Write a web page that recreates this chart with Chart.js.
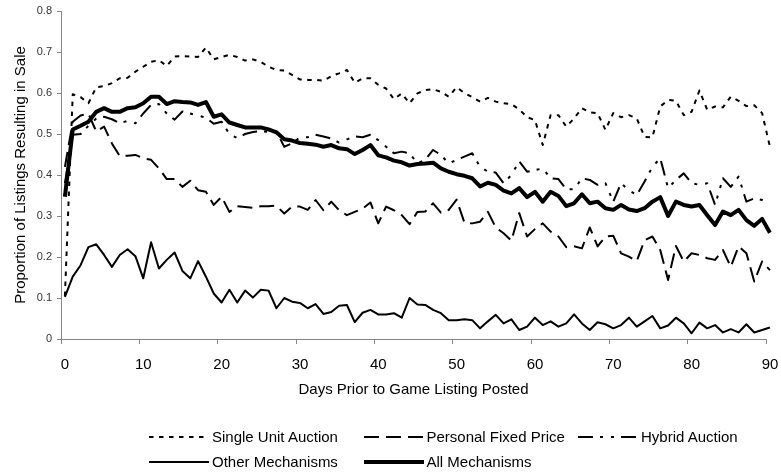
<!DOCTYPE html>
<html><head><meta charset="utf-8">
<script src="https://cdn.jsdelivr.net/npm/chart.js@4.4.1/dist/chart.umd.min.js"></script>
<style>
html,body{margin:0;padding:0;background:#fff;}
#wrap{position:relative;width:781px;height:473px;overflow:hidden;}
canvas{position:absolute;left:0;top:0;}
#legend{position:absolute;left:149px;top:424px;font-family:"Liberation Sans",Arial,sans-serif;font-size:15px;color:#000;display:grid;grid-template-columns:214.5px 214.5px auto;}
.item{display:flex;align-items:center;height:25px;white-space:nowrap;}
.item svg{margin-right:3px;display:block;}
</style></head>
<body><div id="wrap"><canvas id="c" width="781" height="473"></canvas><div id="legend"></div></div>
<script>
// Categories: days prior to listing (points sit at the middle of each day)
const days = Array.from({length: 91}, (_, i) => i + 0.5);
const xTickLabels = ['0','10','20','30','40','50','60','70','80','90'];
const yTickLabels = ['0','0.1','0.2','0.3','0.4','0.5','0.6','0.7','0.8'];
const seriesNames = ['Single Unit Auction','Personal Fixed Price','Hybrid Auction','Other Mechanisms','All Mechanisms'];

const singleUnit = [0.105,0.597,0.59,0.575,0.614,0.617,0.624,0.636,0.637,0.652,
0.664,0.676,0.68,0.666,0.689,0.69,0.689,0.688,0.711,0.682,
0.688,0.693,0.688,0.679,0.682,0.676,0.664,0.656,0.655,0.644,
0.633,0.632,0.632,0.63,0.641,0.648,0.656,0.625,0.636,0.636,
0.62,0.611,0.585,0.599,0.575,0.599,0.607,0.609,0.603,0.591,
0.614,0.6,0.59,0.579,0.588,0.579,0.575,0.573,0.56,0.541,
0.534,0.473,0.546,0.546,0.518,0.538,0.563,0.553,0.551,0.51,
0.551,0.541,0.546,0.538,0.493,0.492,0.567,0.583,0.581,0.546,
0.554,0.606,0.559,0.567,0.565,0.591,0.581,0.568,0.57,0.551,0.469];

const personalFixed = [0.42,0.53,0.545,0.55,0.506,0.518,0.477,0.446,0.447,0.449,
0.441,0.437,0.416,0.39,0.39,0.371,0.386,0.363,0.359,0.327,
0.347,0.31,0.324,0.322,0.32,0.324,0.324,0.325,0.306,0.323,
0.323,0.315,0.339,0.314,0.335,0.314,0.302,0.31,0.318,0.333,
0.282,0.323,0.314,0.302,0.28,0.31,0.311,0.331,0.308,0.315,
0.34,0.284,0.282,0.286,0.31,0.272,0.258,0.24,0.307,0.25,
0.268,0.282,0.262,0.25,0.224,0.226,0.221,0.272,0.226,0.25,
0.252,0.209,0.201,0.19,0.241,0.25,0.217,0.144,0.227,0.189,
0.209,0.205,0.197,0.193,0.217,0.176,0.226,0.209,0.14,0.189,0.168];

const hybridAuction = [0.38,0.498,0.5,0.52,0.538,0.542,0.536,0.526,0.532,0.526,
0.55,0.571,0.573,0.55,0.535,0.555,0.55,0.545,0.54,0.525,
0.53,0.5,0.49,0.5,0.505,0.507,0.505,0.506,0.469,0.477,
0.492,0.492,0.498,0.494,0.489,0.479,0.487,0.494,0.492,0.498,
0.485,0.469,0.453,0.457,0.453,0.428,0.437,0.461,0.449,0.428,
0.437,0.445,0.453,0.42,0.408,0.406,0.38,0.4,0.433,0.408,
0.412,0.416,0.392,0.39,0.365,0.365,0.392,0.388,0.376,0.38,
0.335,0.38,0.363,0.351,0.384,0.42,0.441,0.368,0.388,0.404,
0.38,0.376,0.38,0.327,0.392,0.371,0.396,0.335,0.343,0.339,0.331];

const otherMech = [0.103,0.152,0.18,0.224,0.231,0.205,0.176,0.205,0.219,0.202,
0.148,0.236,0.172,0.193,0.211,0.166,0.148,0.19,0.152,0.111,
0.089,0.12,0.089,0.118,0.101,0.12,0.118,0.075,0.1,0.091,
0.088,0.075,0.085,0.061,0.066,0.081,0.083,0.041,0.064,0.071,
0.06,0.06,0.063,0.052,0.1,0.084,0.083,0.071,0.063,0.046,
0.046,0.048,0.046,0.026,0.043,0.059,0.038,0.048,0.022,0.03,
0.052,0.034,0.043,0.03,0.038,0.06,0.038,0.022,0.041,0.036,
0.026,0.034,0.052,0.03,0.043,0.056,0.026,0.033,0.052,0.038,
0.014,0.04,0.026,0.034,0.016,0.024,0.016,0.036,0.016,0.022,0.028];

const allMech = [0.347,0.511,0.52,0.53,0.554,0.563,0.554,0.554,0.563,0.565,
0.575,0.591,0.591,0.573,0.58,0.578,0.577,0.571,0.578,0.542,
0.548,0.528,0.522,0.516,0.516,0.516,0.511,0.504,0.487,0.484,
0.478,0.476,0.474,0.469,0.473,0.465,0.463,0.451,0.461,0.473,
0.448,0.443,0.435,0.431,0.423,0.427,0.428,0.43,0.416,0.408,
0.402,0.398,0.392,0.372,0.381,0.376,0.362,0.355,0.368,0.346,
0.359,0.335,0.359,0.349,0.324,0.331,0.353,0.331,0.335,0.319,
0.315,0.327,0.316,0.312,0.319,0.335,0.346,0.3,0.335,0.327,
0.323,0.327,0.302,0.278,0.311,0.302,0.315,0.29,0.276,0.293,0.259];

const seriesValues = [singleUnit, personalFixed, hybridAuction, otherMech, allMech];
const styles = [
  {w:2, dash:[4.5,5.5], order:4},
  {w:2, dash:[15,7], order:3},
  {w:2, dash:[15,7,3,8,3,7], order:2},
  {w:2, dash:[], order:1},
  {w:4, dash:[], order:0}
];

Chart.defaults.font.family = '"Liberation Sans", Arial, sans-serif';

const datasets = seriesNames.map((name, k) => ({
  label: name,
  data: seriesValues[k].map((v, i) => ({x: days[i], y: v})),
  borderColor: '#000',
  backgroundColor: '#000',
  borderWidth: styles[k].w,
  borderDash: styles[k].dash,
  borderJoinStyle: 'round',
  borderCapStyle: 'butt',
  pointRadius: 0,
  tension: 0,
  fill: false,
  clip: false,
  order: styles[k].order
}));

new Chart(document.getElementById('c'), {
  type: 'line',
  data: {datasets},
  options: {
    responsive: false,
    animation: false,
    events: [],
    layout: {padding: {left: 0, right: 15, top: 11, bottom: 73}},
    plugins: {legend: {display: false}, tooltip: {enabled: false}},
    scales: {
      x: {
        type: 'linear', min: 0, max: 90,
        afterFit: s => { s.height = 61; s.paddingLeft = 0; s.paddingRight = 0; },
        border: {display: true, color: '#868686', width: 1},
        grid: {drawOnChartArea: false, drawTicks: true, tickLength: 5, tickColor: '#868686'},
        ticks: {stepSize: 10, padding: 12, labelOffset: 4, color: '#000', font: {size: 15},
          callback: (v) => xTickLabels[Math.round(v / 10)]},
        title: {display: true, text: 'Days Prior to Game Listing Posted', color: '#000',
          font: {size: 15}, padding: {top: 0, bottom: 1}}
      },
      y: {
        type: 'linear', min: 0, max: 0.8,
        afterFit: s => { s.width = 61; s.paddingTop = 0; s.paddingBottom = 0; },
        border: {display: true, color: '#868686', width: 1},
        grid: {drawOnChartArea: false, drawTicks: true, tickLength: 4, tickColor: '#868686'},
        ticks: {stepSize: 0.1, padding: 5, color: '#333', font: {size: 11},
          callback: (v) => yTickLabels[Math.round(v * 10)]},
        title: {display: true, text: 'Proportion of Listings Resulting in Sale', color: '#000',
          font: {size: 15}, padding: {top: 12, bottom: 0}}
      }
    }
  }
});

// HTML legend built from the same dataset styles
const legend = document.getElementById('legend');
seriesNames.forEach((name, k) => {
  const item = document.createElement('div');
  item.className = 'item';
  const ns = 'http://www.w3.org/2000/svg';
  const svg = document.createElementNS(ns, 'svg');
  svg.setAttribute('width', '60'); svg.setAttribute('height', '8');
  const ln = document.createElementNS(ns, 'line');
  ln.setAttribute('x1', '0'); ln.setAttribute('x2', '60');
  ln.setAttribute('y1', '4'); ln.setAttribute('y2', '4');
  ln.setAttribute('stroke', '#000');
  ln.setAttribute('stroke-width', String(styles[k].w));
  if (styles[k].dash.length) ln.setAttribute('stroke-dasharray', styles[k].dash.join(' '));
  svg.appendChild(ln);
  const span = document.createElement('span');
  span.textContent = name;
  item.appendChild(svg); item.appendChild(span);
  legend.appendChild(item);
});
</script>
</body></html>
